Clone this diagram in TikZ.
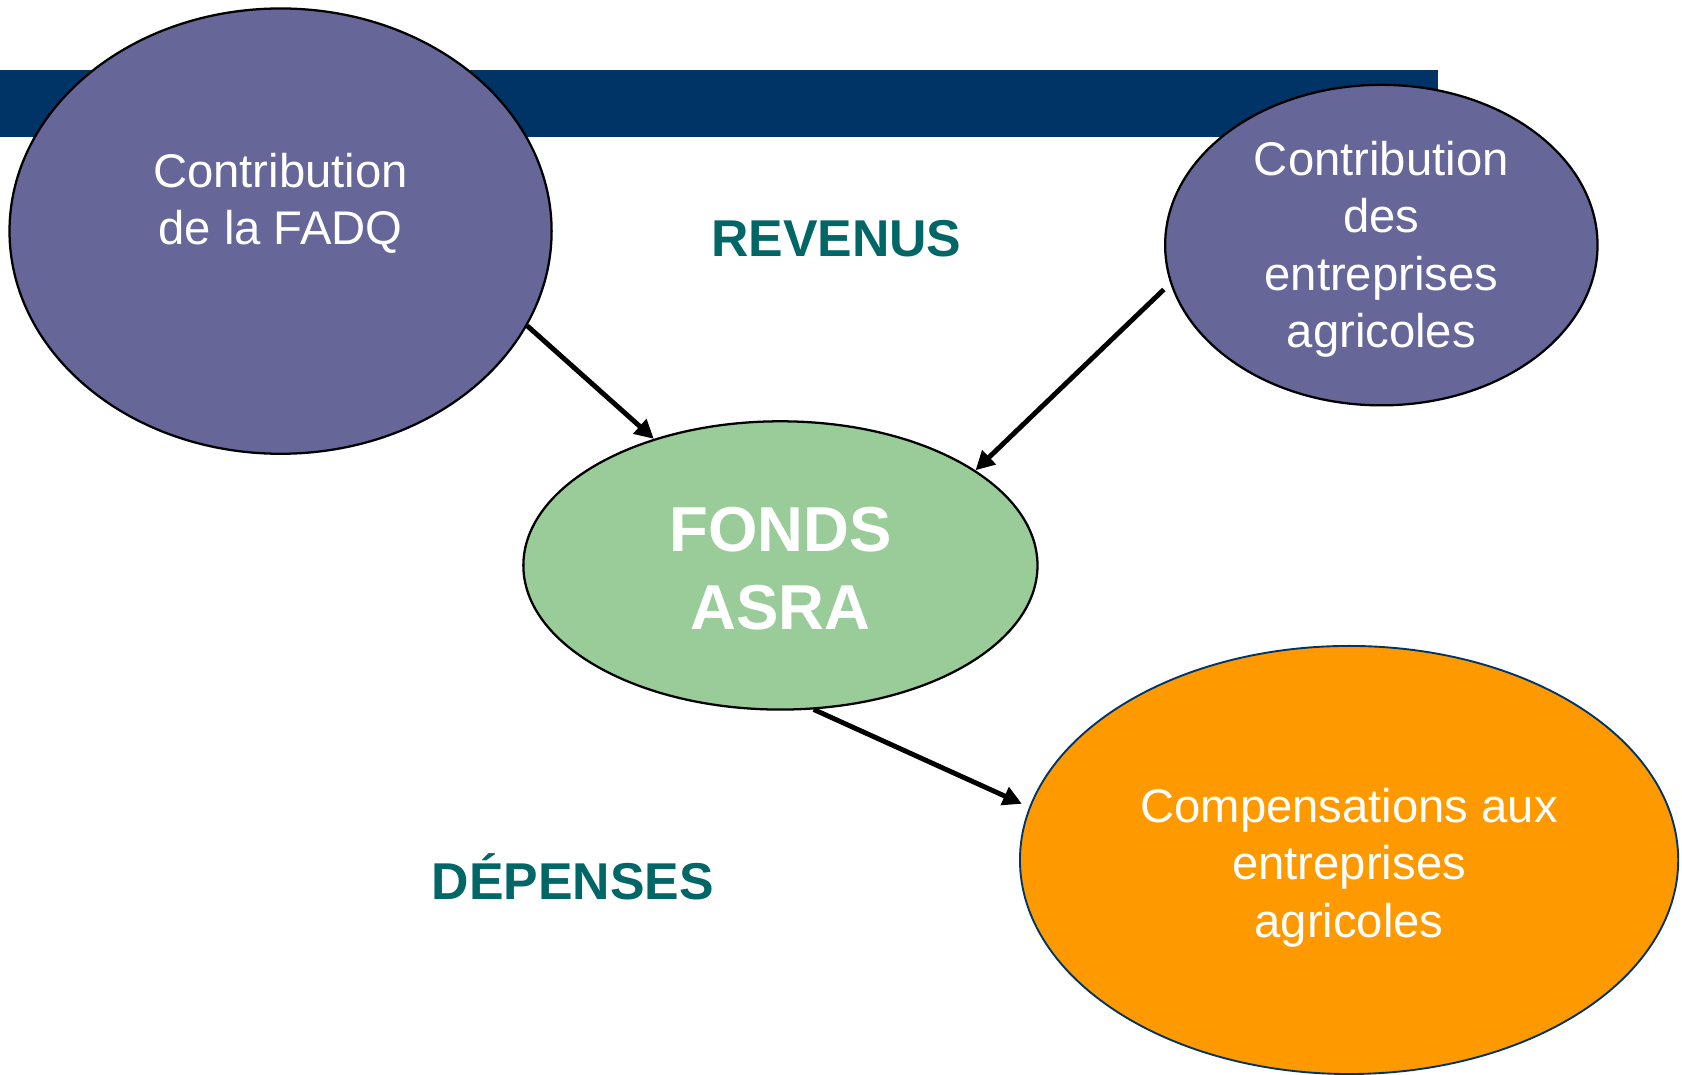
\documentclass[tikz,border=0pt]{standalone}
\usepackage{fontspec}
\setmainfont{Liberation Sans}
\usetikzlibrary{shapes.geometric,arrows.meta}
\definecolor{navy}{RGB}{0,51,102}
\definecolor{purp}{RGB}{102,102,153}
\definecolor{mint}{RGB}{153,204,153}
\definecolor{orng}{RGB}{255,153,0}
\definecolor{tealtxt}{RGB}{0,102,102}
\begin{document}
\begin{tikzpicture}[x=0.01cm,y=-0.01cm,
  bubble/.style={ellipse, draw=black, line width=0.6pt, inner sep=0pt},
  bubtext/.style={text=white, align=center, inner sep=0pt, font=\fontsize{12.5}{15.2}\selectfont},
  bigtext/.style={text=white, align=center, inner sep=0pt, font=\fontsize{16.8}{20.5}\selectfont\bfseries},
  headtext/.style={text=tealtxt, inner sep=0pt, font=\fontsize{13.7}{16}\selectfont\bfseries},
  flow/.style={draw=black, line width=1.3pt, -{Triangle[length=5pt,width=5pt]}}]
\useasboundingbox (0,0) rectangle (1564.7,1000);
\fill[navy] (0,65) rectangle (1338,127);
\node[bubble, fill=purp, minimum width=5.04cm, minimum height=4.14cm] (fadq) at (261,215) {};
\node[bubble, fill=purp, minimum width=4.02cm, minimum height=2.98cm] (entr) at (1285,228) {};
\node[bubble, fill=mint, minimum width=4.78cm, minimum height=2.68cm] (fonds) at (726,526) {};
\node[bubble, draw=navy, line width=0.5pt, fill=orng, minimum width=6.12cm, minimum height=3.98cm] (comp) at (1255,800) {};
\node[bubtext] (fadqt) at (261,189) {Contribution\\de la FADQ};
\node[bubtext] (entrt) at (1285,232) {Contribution\\des\\entreprises\\agricoles};
\node[bigtext] (fondst) at (726,529) {FONDS\\ASRA};
\node[bubtext] (compt) at (1255,807) {Compensations aux\\entreprises\\agricoles};
\node[headtext] (rev) at (778,222) {REVENUS};
\node[headtext] (dep) at (533,816) {DÉPENSES};
\draw[flow] (fadq.-21.3) -- (fonds.135);
\draw[flow] ([xshift=-0.08cm]entr.192.6) -- (fonds.26.3);
\draw[flow] (fonds.-77.5) -- ([xshift=-0.08cm]comp.170.4);
\end{tikzpicture}
\end{document}
